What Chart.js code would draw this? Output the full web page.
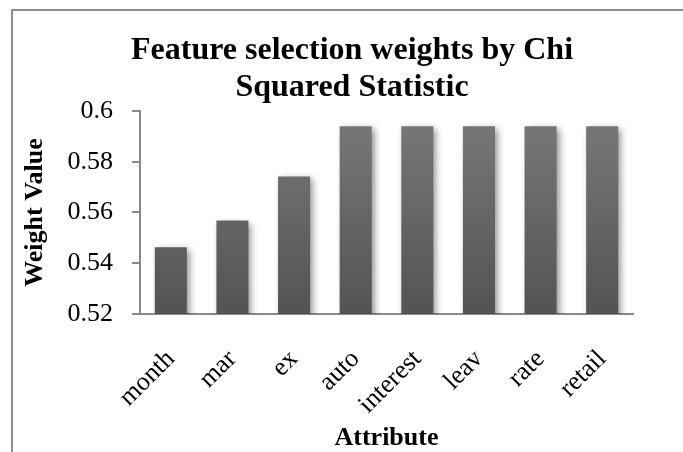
<!DOCTYPE html>
<html>
<head>
<meta charset="utf-8">
<script src="https://cdn.jsdelivr.net/npm/chart.js@4/dist/chart.umd.min.js"></script>
<style>
  html, body { margin: 0; padding: 0; background: #ffffff; }
  #wrap { position: relative; width: 683px; height: 452px; }
</style>
</head>
<body>
<div id="wrap"><canvas id="chart" width="683" height="452"></canvas></div>
<script>
// Chi squared feature weights per attribute
const attributes = ['month', 'mar', 'ex', 'auto', 'interest', 'leav', 'rate', 'retail'];
const weights = [0.5463, 0.5568, 0.5742, 0.594, 0.594, 0.594, 0.594, 0.594];
const yTicks = [0.52, 0.54, 0.56, 0.58, 0.6];
const titleLines = ['Feature selection weights by Chi', 'Squared Statistic'];
const yTitle = 'Weight Value';
const xTitle = 'Attribute';

const SERIF = '"Liberation Serif", "Times New Roman", serif';
const AXIS = '#898989';

// Outer frame and the chart / axis titles
const decorations = {
  id: 'decorations',
  beforeDraw(chart) {
    const c = chart.ctx;
    c.save();
    c.strokeStyle = '#8e8e8e';
    c.lineWidth = 2;
    c.beginPath();
    c.moveTo(12, 460);
    c.lineTo(12, 10);
    c.lineTo(700, 10);
    c.stroke();
    c.restore();
  },
  afterDraw(chart) {
    const c = chart.ctx;
    const area = chart.chartArea;
    c.save();
    c.fillStyle = '#000000';
    c.textAlign = 'center';
    c.textBaseline = 'alphabetic';
    c.font = 'bold 32px ' + SERIF;
    c.fillText(titleLines[0], 352, 59);
    c.fillText(titleLines[1], 352, 96);

    c.font = 'bold 26px ' + SERIF;
    c.fillText(xTitle, (area.left + area.right) / 2, 445);

    c.translate(35, (area.top + area.bottom) / 2);
    c.rotate(-Math.PI / 2);
    c.textBaseline = 'middle';
    c.fillText(yTitle, 0, 0);
    c.restore();
  }
};

// Soft drop shadow behind the bars
const barShadow = {
  id: 'barShadow',
  beforeDatasetsDraw(chart) {
    const c = chart.ctx;
    c.save();
    c.shadowColor = 'rgba(0,0,0,0.45)';
    c.shadowBlur = 7;
    c.shadowOffsetX = 3;
    c.shadowOffsetY = 3;
  },
  afterDatasetsDraw(chart) {
    chart.ctx.restore();
  }
};

new Chart(document.getElementById('chart'), {
  type: 'bar',
  data: {
    labels: attributes,
    datasets: [{
      data: weights,
      backgroundColor(ctx) {
        const area = ctx.chart.chartArea;
        if (!area) return '#666666';
        const g = ctx.chart.ctx.createLinearGradient(0, area.top, 0, area.bottom);
        g.addColorStop(0, '#797979');
        g.addColorStop(1, '#535353');
        return g;
      },
      borderWidth: 0,
      barPercentage: 0.52,
      categoryPercentage: 1
    }]
  },
  options: {
    responsive: false,
    animation: false,
    events: [],
    layout: { padding: { top: 111, right: 50, bottom: 0, left: 0 } },
    plugins: {
      legend: { display: false },
      title: { display: false },
      tooltip: { enabled: false }
    },
    scales: {
      x: {
        grid: { display: false },
        border: { display: true, color: AXIS, width: 2 },
        ticks: {
          maxRotation: 45,
          minRotation: 45,
          padding: 22,
          color: '#000000',
          font: { family: SERIF, size: 26 }
        },
        afterFit(scale) { scale.height = 138; }
      },
      y: {
        min: 0.52,
        max: 0.6,
        grid: {
          drawOnChartArea: false,
          drawTicks: true,
          tickLength: 8,
          color: AXIS,
          lineWidth: 2
        },
        border: { display: true, color: AXIS, width: 2 },
        afterBuildTicks(scale) {
          scale.ticks = yTicks.map(v => ({ value: v }));
        },
        ticks: {
          padding: 19,
          color: '#000000',
          font: { family: SERIF, size: 26 },
          callback(v) { return String(Number(v.toFixed(2))); }
        },
        afterFit(scale) { scale.width = 140; }
      }
    }
  },
  plugins: [decorations, barShadow]
});
</script>
</body>
</html>
